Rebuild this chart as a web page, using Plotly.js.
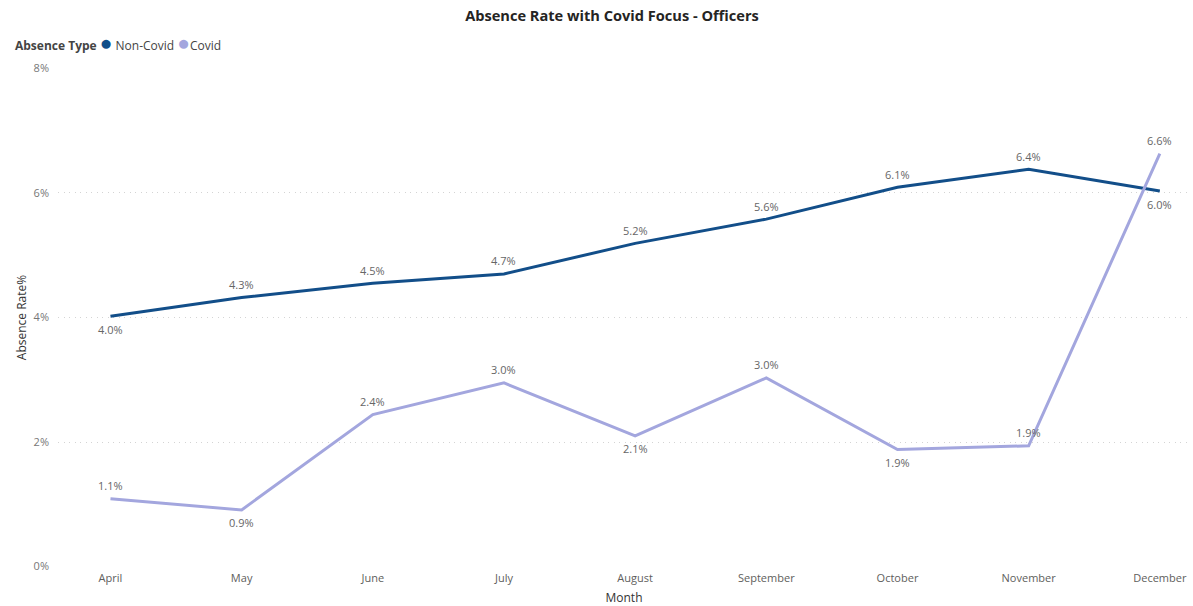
<!DOCTYPE html>
<html>
<head>
<meta charset="utf-8">
<script src="https://cdn.plot.ly/plotly-3.0.1.min.js"></script>
<style>html,body{margin:0;padding:0;background:#fff;}#chart{width:1193px;height:606px;}</style>
</head>
<body>
<div id="chart"></div>
<script>
const months = ["April","May","June","July","August","September","October","November","December"];
const nonCovid = [4.02, 4.32, 4.55, 4.70, 5.19, 5.58, 6.09, 6.38, 6.03];
const covid = [1.09, 0.91, 2.44, 2.95, 2.10, 3.03, 1.88, 1.94, 6.63];
// +1 = label above the point, -1 = below
const nonCovidSide = [-1, 1, 1, 1, 1, 1, 1, 1, -1];
const covidSide = [1, -1, 1, 1, -1, 1, -1, 1, 1];
const yTicks = [0, 2, 4, 6, 8];

const COL_NC = "#124E89";
const COL_C = "#A3A6DE";
const fmt = v => v.toFixed(1) + "%";
const FONT = "'Open Sans', 'Noto Sans', sans-serif";

const traces = [
  {name: "Non-Covid", x: months, y: nonCovid, type: "scatter", mode: "lines",
   line: {color: COL_NC, width: 3}, showlegend: false},
  {name: "Covid", x: months, y: covid, type: "scatter", mode: "lines",
   line: {color: COL_C, width: 3}, showlegend: false}
];

function labels(vals, sides) {
  return vals.map((v, i) => ({
    x: months[i], y: v, xref: "x", yref: "y", text: fmt(v), showarrow: false,
    yshift: sides[i] * 13, xanchor: "center", yanchor: "middle",
    font: {size: 11, color: "#666", family: FONT}
  }));
}

const dot = c => "<span style='color:" + c + ";font-size:21px'>●</span>";
const annotations = [
  ...labels(nonCovid, nonCovidSide),
  ...labels(covid, covidSide),
  {
    xref: "paper", yref: "paper", x: -0.0395, y: 1.052, xanchor: "left", yanchor: "middle", showarrow: false,
    text: "<b>Absence Type</b> " + dot(COL_NC) + " Non-Covid " + dot(COL_C) + "Covid",
    font: {size: 12, color: "#444", family: FONT}
  }
];

const layout = {
  width: 1193, height: 606,
  margin: {l: 58, r: 3, t: 68, b: 39},
  paper_bgcolor: "#fff", plot_bgcolor: "#fff",
  font: {family: FONT, color: "#605E5C", size: 11},
  title: {text: "<b>Absence Rate with Covid Focus - Officers</b>", x: 0.513, xref: "container", y: 0.973, yanchor: "middle",
          font: {size: 14.6, color: "#252423", family: FONT}},
  showlegend: false,
  annotations: annotations,
  xaxis: {
    type: "category", range: [-0.40, 8.23], showgrid: false, zeroline: false, showline: false,
    ticks: "", ticklabelstandoff: 3, tickfont: {size: 11, color: "#605E5C"},
    title: {text: "Month", font: {size: 12, color: "#333"}, standoff: 10}
  },
  yaxis: {
    range: [-0.006, 8.006], tickvals: yTicks, ticktext: yTicks.map(v => v + "%"),
    showgrid: true, gridcolor: "#d4d4d4", griddash: "1px,4.5px", gridwidth: 1,
    zeroline: false, showline: false, ticks: "", ticklabelstandoff: 8,
    tickfont: {size: 11, color: "#777"},
    title: {text: "Absence Rate%", font: {size: 12, color: "#333"}, standoff: 4}
  }
};

Plotly.newPlot("chart", traces, layout, {displayModeBar: false, staticPlot: true});
</script>
</body>
</html>
